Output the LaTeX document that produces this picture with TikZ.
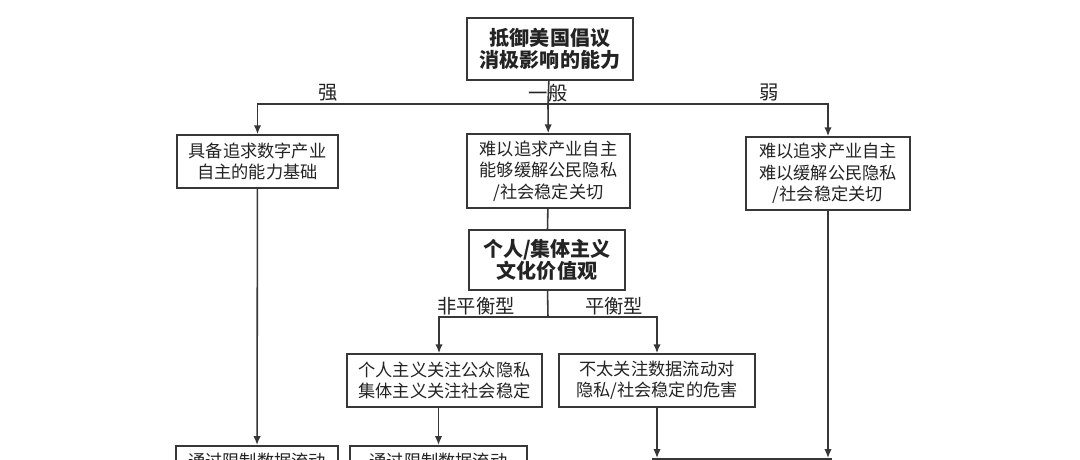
\documentclass[tikz,border=0pt]{standalone}
\usepackage{fontspec}
\usepackage{tikz}
\usetikzlibrary{arrows.meta}
\newfontfamily\cjk{Noto Sans CJK SC}
\definecolor{linegray}{RGB}{55,55,55}
\definecolor{textgray}{RGB}{35,35,35}
\tikzstyle{box} = [rectangle, draw=linegray, line width=0.9pt, inner sep=0pt, align=center, text=textgray, font=\cjk\fontsize{9.8}{12.2}\selectfont]
\tikzstyle{keybox} = [box, font=\cjk\bfseries\fontsize{11.4}{12.8}\selectfont]
\tikzstyle{arrow} = [line width=0.9pt, draw=linegray, ->, >={Latex[length=5pt,width=4.2pt]}]
\tikzstyle{line} = [line width=0.9pt, draw=linegray, -]
\tikzstyle{branch} = [inner sep=0pt, text=textgray, font=\cjk\fontsize{11}{13}\selectfont]

\begin{document}
\begin{tikzpicture}[x=0.02cm, y=-0.02cm]
      \useasboundingbox (0,0) rectangle (1080,460);
      \clip (0,0) rectangle (1080,460);
      \fill[white] (0,0) rectangle (1080,460);
      % top level
      \node (ability) at (550, 49) [keybox, minimum width=3.32cm, minimum height=1.24cm] {抵御美国倡议\\消极影响的能力};
      \coordinate (split) at (548, 104);
      \node (strong) at (257.5, 161.5) [box, minimum width=3.22cm, minimum height=1.06cm] {具备追求数字产业\\自主的能力基础};
      \node (general) at (548.5, 171) [box, minimum width=3.26cm, minimum height=1.48cm] {难以追求产业自主\\能够缓解公民隐私\\/社会稳定关切};
      \node (weak) at (828, 173.5) [box, minimum width=3.28cm, minimum height=1.46cm] {难以追求产业自主\\难以缓解公民隐私\\/社会稳定关切};
      \node at (328, 92.5) [branch] {强};
      \node at (548, 93) [branch] {一般};
      \node at (769, 92.5) [branch] {弱};
      \draw[line] (ability) -- (split);
      \draw[arrow] (split) -| (strong.north);
      \draw[arrow] (split) -- (general);
      \draw[arrow] (split) -| (weak.north);
      % culture level
      \node (culture) at (547, 260) [keybox, minimum width=3.12cm, minimum height=1.2cm] {个人/集体主义\\文化价值观};
      \coordinate (split2) at (548, 317);
      \node (unbal) at (444.5, 380.5) [box, minimum width=3.9cm, minimum height=1.06cm] {个人主义关注公众隐私\\集体主义关注社会稳定};
      \node (bal) at (657, 380.5) [box, minimum width=3.92cm, minimum height=1.06cm] {不太关注数据流动对\\隐私/社会稳定的危害};
      \node at (476, 306) [branch] {非平衡型};
      \node at (614, 306) [branch] {平衡型};
      \draw[line] (general) -- (culture);
      \draw[line] (culture) -- (split2);
      \draw[arrow] (split2) -| (unbal.north -| 439, 0);
      \draw[arrow] (split2) -| (bal.north);
      % bottom level (cut off)
      \node (restrictA) at (257, 445) [box, anchor=north, minimum width=3.24cm, inner ysep=4pt] {通过限制数据流动};
      \node (restrictB) at (438.5, 445) [box, anchor=north, minimum width=3.54cm, inner ysep=4pt] {通过限制数据流动};
      \node (lower) at (742, 458) [box, anchor=north, minimum width=3.56cm, minimum height=1.2cm] {};
      \draw[arrow] (strong) -- (restrictA);
      \draw[arrow] (unbal.south -| restrictB.north) -- (restrictB.north);
      \draw[arrow] (bal.south) -- (bal.south |- lower.north);
      \draw[arrow] (weak.south) -- (weak.south |- lower.north);
    \end{tikzpicture}
\end{document}
